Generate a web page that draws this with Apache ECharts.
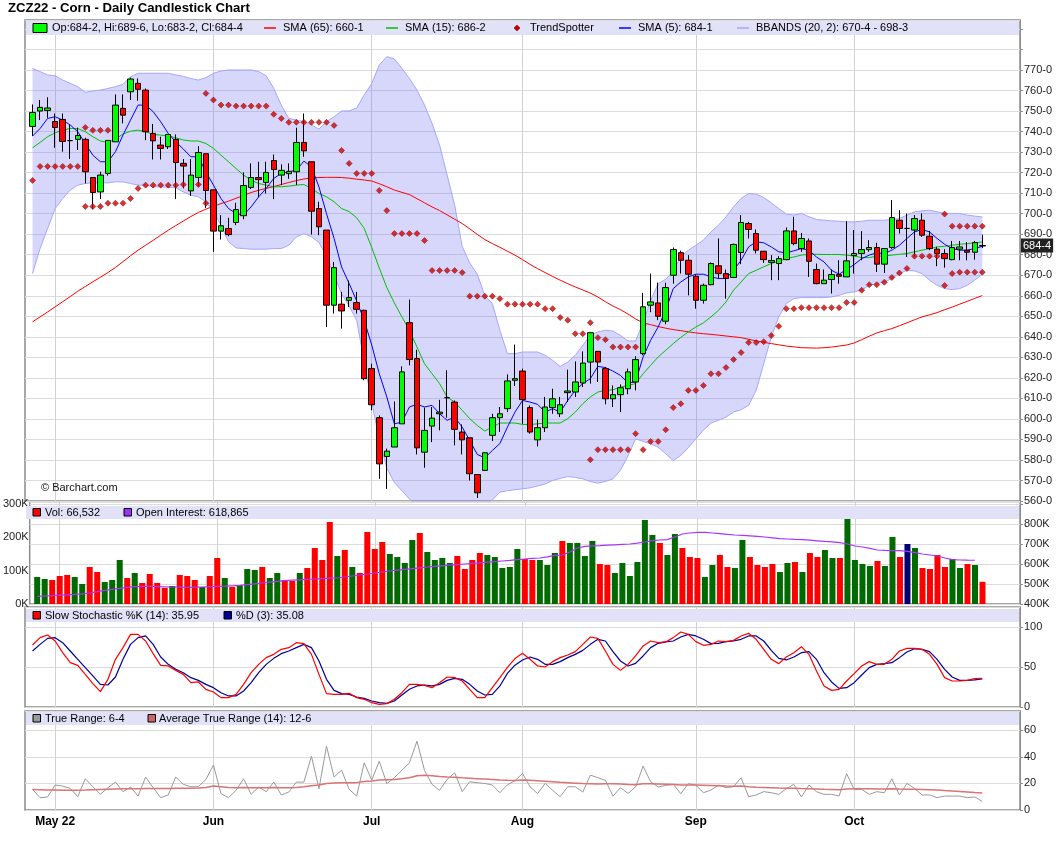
<!DOCTYPE html>
<html>
<head>
<meta charset="utf-8">
<title>ZCZ22 - Corn - Daily Candlestick Chart</title>
<script src="https://cdn.jsdelivr.net/npm/echarts@6/dist/echarts.min.js"></script>
<style>
  html, body { margin: 0; padding: 0; background: #fff; }
  #chart { width: 1060px; height: 851px; }
</style>
</head>
<body>
<div id="chart"></div>
<script>
// ---- data (one entry per trading day, Apr 27 .. Oct 26 2022) ----
var holidays = ['2022-05-30', '2022-06-20', '2022-07-04', '2022-09-05'];

var opens = [742.5,750,750.3,744.9,745.9,735.6,736.2,736.2,717.6,710.6,
  719.6,735,751.3,759.4,763.5,760.2,739.1,733.4,732.6,736.2,
  724.5,711.1,717.6,729.2,711.6,691.5,692.8,695.7,699,712.8,
  717.6,715.2,725.9,718.8,719.5,720.4,734.7,725.3,702.5,692,
  655.4,655.9,657.8,656.7,652.9,624.5,600.6,581.7,586.3,597.6,
  646.9,629.4,583.8,596.5,602.5,610.3,608.2,593.6,590.8,572.9,
  574.9,592,600.6,605,618.8,623.3,605.5,589.8,595.7,605.5,
  602.5,612.8,613.1,617.5,627.7,632.9,624.5,609.8,611.8,614.7,
  618,631.8,655.4,656.5,647.6,670,681,677.3,669.5,657.8,
  665.4,674.6,670.8,668.9,681.1,695.2,690.3,681.7,676.3,675.7,
  677.6,691.6,683,686.7,672.8,665.9,667.9,670.3,669.2,679.6,
  680.6,682.5,683.5,675.4,683.5,696.8,692.8,692,696.8,689,
  682.7,680.6,677.6,682.7,682.2,681.2,684.25];

var highs = [753.2,755.4,756.7,748.8,748.8,743.2,741.9,737,717.6,720.4,
  735.7,758.1,758.1,766.3,765.9,761,743.7,737.5,738.6,738.6,
  726.6,726.6,732.9,729.2,711.6,699.3,698,705.3,720.1,724.5,
  725.3,725.3,728.8,724,724.5,741.9,748.8,725.3,705.8,692,
  676.5,661.9,667.4,661.9,653.2,626.9,601.7,585.5,608.5,625.6,
  658.1,633.7,605.5,605.8,609.3,623.7,609,597.3,590.8,572.9,
  583.8,602.5,605.8,621.7,636.2,624.5,606.6,599.6,610.7,614.7,
  610.7,624,628,632.9,642.4,632.9,625.3,616.3,616.8,624.5,
  630.5,661.4,670.8,666.4,666.4,683.5,682,679.8,670.5,665.9,
  676.2,687.9,672.8,685.4,699.3,696,692.3,681.7,679.8,679.3,
  693.3,698.5,690.6,687.9,675.7,672.8,672.8,677.3,696.3,692,
  691.5,687.1,685.8,683,706.6,701.7,700.1,699.3,700.1,691.6,
  683.8,682.7,686.7,686.7,686.2,686.7,689.75];

var lows = [737.8,745.6,746.7,732.1,730.2,726.6,731,714.7,702.2,707.1,
  718.5,735,744,755.4,755,735.8,726.4,726.4,731.5,707.1,
  712.3,708.7,713.1,702.8,681.4,687.4,689,694.4,697.3,712,
  708.2,709.8,707.1,713.9,717,713.9,727.7,689.8,689.5,644.8,
  651.3,644,654.5,651.3,618.8,604.2,570.8,565.9,586.3,597.6,
  626.1,582.7,576.2,588.7,594.4,600.6,587.1,582.7,570,561.5,
  574.6,589.2,593.6,603.3,616,597.6,592.8,586.6,593.6,602.5,
  600.9,608.2,610.7,615.5,617.2,618,607.1,605.8,603.3,612,
  613.9,631,652,648.1,646.1,665.9,670.8,660.2,653.7,656.2,
  665.1,668.4,658.6,668.9,675.4,687.9,680.6,676,667.6,667.6,
  677.3,684.6,681.4,669.2,665.6,665.9,661.1,665.9,669.2,670.8,
  677.3,681.4,671.6,671.1,682.7,690.3,678.9,679.3,688.7,682.2,
  674.4,673.7,677.3,677.3,677.3,677.6,683.25];

var closes = [749.3,751.8,751.5,742,735.2,735.6,738.1,720.4,710.3,718.8,
  735.7,752.9,748,765.6,760.6,739.9,735.5,731.8,738.6,724.9,
  723.2,718.8,729.8,711.3,691.5,694.1,689.8,702,713.7,717.6,
  716.6,720.1,721.5,721.1,720.6,734.7,730.6,701.2,693.6,655.4,
  673.7,652.6,659.1,653.4,619.6,606.9,578.1,584.3,595.7,622.9,
  628.9,585.9,594.4,600.4,603.3,610.3,594.9,589.8,573.3,564,
  583.5,600.6,602.5,618.5,619.6,609.4,593.6,595.7,605.8,609.8,
  606.9,613.6,618,627.2,642,627.7,609.8,611.8,615.2,622.9,
  628.9,654.6,657,650,664,682.5,677.3,670.5,657.8,665.1,
  675.7,670.8,668.4,685,695.7,692.3,682.2,677.6,677.2,678.1,
  691.6,685.4,687.9,676.8,665.9,667.6,670.3,669.5,677,680.6,
  682.5,683.5,675.4,683,698.1,692.8,692.8,697.6,689.5,683,
  680.6,678.1,683.5,683.8,681.2,685.9,684.5];

var sma65 = [647.3,649.7,652.1,654.6,657.1,659.6,662.2,664.5,666.8,669,
  671.3,673.8,676.6,679.5,682.2,684.6,687,689.5,691.9,694.2,
  696.4,698.6,700.6,702.2,703.6,704.9,706.1,707.5,708.9,710.3,
  711.4,712.3,713.2,714.2,715.2,716.1,716.9,717.4,717.6,717.7,
  717.7,717.6,717.3,716.8,716.4,715.9,714.6,713.1,711.5,710.4,
  709.3,707.3,705.3,703.3,701.5,699.4,697.3,695.2,692.6,689.9,
  687.4,685.4,683.6,681.7,679.8,677.6,675.3,673.2,671.3,669.4,
  667.6,665.9,664.3,662.8,661.3,659.4,657.1,655,653.2,651.1,
  648.7,646.8,645.9,645,644.2,643.5,643,642.4,641.9,641.5,
  641.2,640.8,640.4,640,639.6,638.8,638,637.3,636.7,636.1,
  635.5,635.1,634.7,634.6,634.5,634.7,635,635.5,636,637,
  638.6,640.3,641.9,643,644,645.4,646.8,648.3,649.7,650.7,
  651.8,653.2,654.5,655.9,657.3,658.7,660.1];

var sma15 = [732.1,734.7,737.5,739.4,740.7,741.5,741.5,739.9,737.5,735.4,
  734.7,736.3,738.8,740.2,740.7,739.9,738.6,738.3,737.8,737,
  735.9,735.4,735.4,734.2,731.8,728.5,725.3,722,718.8,716.3,
  714.7,713.9,713.1,713.1,713.4,713.9,714.2,712.3,709.8,708.2,
  705.8,702.5,701,698,692.8,683.5,673.5,664,656.5,649.7,
  643.2,635,626.9,622,617.2,610.7,608.2,604.2,600.1,596.8,
  594.1,596,598,598,598,597.3,597.3,597.6,598,598,
  598,600.1,603.3,607.4,610.7,613.1,613.9,614.2,615.5,616.3,
  617.2,622,626.1,630.2,633.4,636.7,639.7,642.4,644.8,646.8,
  649.7,652.9,657,662.7,666.7,670.8,672.4,674.1,675.7,676.8,
  678.1,678.9,679.8,680.2,680.2,680.1,680.1,680.1,679.8,679.3,
  678.6,678.6,679.3,679.3,679.8,680.2,680.6,681.4,682.2,683,
  683.8,684.1,684.6,685.1,685.4,685.8,686.2];

var sma5 = [737.8,741.5,746.4,747.2,745.6,743.2,739.9,734.2,728.5,725.3,
  725.3,730.2,738.3,745.6,752.9,752.9,749.7,744.8,739.1,735,
  731.5,727.7,727.7,720.4,713.9,707.4,702.5,700.1,699.3,703.3,
  708.2,712.3,717.2,719.6,720.4,721.2,725.6,722.8,713,700,
  688,674,666,657.5,648,636,622,610.7,597.6,598.4,
  605.8,607.1,605.8,606.6,602.5,599.3,600.9,596,589.5,582.7,
  581,584.6,588,596,603.3,609,608.2,607.1,603.3,605,
  603.3,609,613.9,617.2,619.6,625.6,625,623.3,621.2,617.5,
  618,630.2,638.3,644.8,652.9,663.5,666.7,669.2,670.5,670.5,
  669.2,668.4,668.4,672.4,677.3,683.8,686.3,685.8,683.8,681.4,
  680.9,681.9,683,682.2,678.9,676.5,672.4,670.5,672.8,675.2,
  678.1,679.8,680.9,680.6,682.2,684.6,687.9,691.1,692.3,691.1,
  687.9,685.1,683,682.2,682.2,683,684.1];

var bbUpper = [770.8,769.2,767.6,767.2,765.1,763.5,761.9,759.1,759.8,760.2,
  761,761.9,763,766.7,768.4,768.4,768.4,768.4,768.4,767.6,
  766.9,765.9,765.1,766.3,768.4,769.5,770,770,770,770,
  769.2,767.2,761,752.9,746.4,745.6,744.8,743.2,741.2,744.8,
  747.2,750,750.1,751.5,757.8,763.5,772.4,776.5,775.4,770.8,
  765.9,760.2,752.9,744,733.4,718.8,704.2,684,676,670.5,
  660,656.2,643.2,631.8,631.8,632.6,632.6,632.6,631,628.5,
  625.6,627.7,631,635.9,640.7,642.4,643.2,642.8,640.7,638,
  638,646.8,657.8,665.9,668,672,679,682.2,684.6,687.1,
  691.1,694.4,698.5,703.3,707.4,709.8,709.5,707.9,705.3,702.5,
  699.8,699.3,700.1,698.5,697.2,696.8,696.5,696.3,696,696,
  696.3,696.8,696.8,696.8,697.2,697.6,699.3,700.9,701.4,701.7,
  700.9,700.1,700.1,700.1,699.3,698.8,698.4];

var bbLower = [670.8,683,692.8,702.5,707.4,711.5,713.9,714.7,715,715,
  715,715.5,715.5,714.7,713.9,713.9,713.1,713.1,712.8,712.6,
  710.6,709,708.2,705.8,700.9,694.4,686.3,683.3,683,682.7,
  682.7,682.7,683,683,684.6,688.7,690.3,688.7,686,679,
  670,661,655,648,628,608,590,576,569,565,
  561,557,554,552,551,551,551,552,554,556,
  558,560.5,564.3,565,565.5,565.9,566.4,567.3,568.3,570,
  571,571.9,571.5,570.8,569.5,568.7,569.5,570.8,575,582,
  590.3,589,587.9,586.2,583,579.7,582.2,586,590.3,594.5,
  598,599.3,600.9,603.3,604.5,606.6,613.9,626.9,639.9,649.7,
  656.2,658.6,659.1,659.1,659.1,659.1,659.4,660.2,661.4,661.9,
  662.7,665.1,665.9,666.7,668.4,670.8,672.4,672.1,670.8,667.6,
  665.1,663.5,663,663.5,665.1,667.6,670.5];

// TrendSpotter stops: below price / above price (null = no dot)
var tsBelow = [716.2,723,723,723,723,723,723,703.5,703.5,703.5,
  705.1,705.1,705.1,707.4,712.3,713.9,713.9,713.9,713.9,713.9,
  714.2,null,714.2,705.1,null,null,null,null,null,null,
  null,null,null,null,null,null,null,null,null,null,
  null,null,null,null,null,null,null,null,null,null,
  null,null,null,null,null,null,null,null,null,null,
  null,null,null,null,null,null,null,null,null,null,
  null,null,null,null,580.1,585,585,585,585,585,
  592.8,585,589,589,594.7,605.5,607.4,613.9,613.9,616.3,
  622,622,625,628.9,632.3,637.2,637.2,637.6,640.6,645.1,
  653.7,653.7,654.2,654.2,654.2,654.2,654.2,654.2,656.7,656.7,
  662.7,665.4,665.4,666.6,668.9,671.1,673.3,679.3,679.3,679.3,
  679.3,665,670.8,671.5,671.5,671.5,671.5];

var tsAbove = [null,null,null,null,null,null,null,742,740.6,740.6,
  740.6,null,null,null,null,null,null,null,null,null,
  null,null,null,758.6,755.4,752.9,752.9,752.4,752.4,752.4,
  752.4,752.4,748.4,746.4,744.5,744.5,744.5,744.5,744.5,744.5,
  743,730.8,724.5,719.6,719.6,719.6,711.3,701.5,690.3,690.3,
  690.3,690.3,686.9,672.3,672.3,672.3,672.3,671.3,659.8,659.8,
  659.8,659.8,658.6,655.9,655.9,655.9,655.9,655.9,653.7,653.7,
  649.4,648.1,641.5,641.5,646.9,639.6,638.6,635,635,635,
  635,null,null,null,null,null,null,null,null,null,
  null,null,null,null,null,null,null,null,null,null,
  null,null,null,null,null,null,null,null,null,null,
  null,null,null,null,null,null,null,null,null,null,
  null,699.8,693.9,693.9,693.9,693.9,693.9];

var volume = [81000,75000,72000,84000,87000,81000,60000,111000,96000,66000,
  72000,132000,78000,93000,63000,90000,63000,48000,54000,87000,
  84000,72000,51000,84000,138000,78000,51000,57000,105000,102000,
  111000,78000,93000,72000,69000,93000,108000,168000,132000,246000,
  144000,162000,111000,93000,216000,165000,186000,150000,141000,123000,
  192000,213000,156000,132000,138000,123000,144000,105000,132000,153000,
  147000,141000,108000,111000,165000,135000,132000,132000,117000,153000,
  189000,183000,183000,144000,189000,120000,117000,93000,123000,84000,
  126000,252000,207000,183000,147000,210000,168000,141000,138000,81000,
  117000,147000,111000,108000,192000,141000,117000,111000,120000,96000,
  123000,126000,96000,153000,141000,162000,138000,138000,255000,132000,
  120000,114000,129000,114000,201000,141000,180000,168000,108000,105000,
  147000,111000,135000,108000,120000,117000,66532];

var openInterest = [438,440,442,444,446,448,451,455,462,468,
  473,478,483,487,488,488,487,486,485,484,
  483,484,485,487,488,489,491,493,497,501,
  505,509,513,517,519,521,523,525,527,529,
  530,535,540,545,550,555,560,565,569,573,
  577,581,585,588,591,594,597,600,603,606,
  609,612,615,618,622,625,628,630,636,643,
  645,660,680,688,691,692,694,696,698,700,
  704,710,717,720,722,735,750,755,758,758,
  755,752,748,745,743,741,738,735,731,727,
  725,723,722,719,716,713,711,707,700,690,
  685,678,670,668,667,667,663,657,650,645,
  640,630,622,620,619,618.865,null]; // thousands

var stochK = [77.5,86.7,90,82.5,67.9,55.4,52.1,40.8,29.2,19.2,
  34.6,59.6,74.2,90.8,90.8,82.5,66.7,52.1,51.3,45.8,
  40.8,30.4,31.3,22.1,18.8,11.7,11.7,15.8,28.3,42.9,
  53.3,61.7,65.8,72.1,74.2,80.4,79.2,65.8,40.8,16.7,
  15.8,15.8,17.1,11.7,9.6,5.4,3.3,4.2,9.6,17.9,
  28.3,28.3,27.1,24.2,30.4,37.5,36.7,32.5,22.1,11.7,
  11.7,24.2,36.7,49.6,60.5,67.1,59.6,51.3,50,56.7,
  61.7,65,69.2,78.3,87.5,85.8,70,53.3,45.8,53.3,
  63.8,76.3,82.5,80.4,81.3,86.7,93.8,90.8,81.7,77.1,
  78.3,82.5,81.7,83.3,88.8,92.1,84.6,72.1,59.6,54.2,
  62.5,67.9,75.4,65.8,45,26.3,20.8,22.1,32.5,41.7,
  51.3,56.7,53.3,53.3,59.6,70,73.3,73.3,72.1,65.8,
  53.3,36.7,32.5,32.5,33.3,35.4,35.95];

var stochD = [70,78.3,85.8,86.7,80.4,70,59.6,49.2,38.8,28.3,
  27.5,37.5,59.6,78.3,86.7,88.8,78.3,62.5,53.3,47.1,
  42.9,36.7,33.3,28.3,24.2,17.9,13.8,13.8,20,30.4,
  42.9,53.3,60.8,66.7,70,74.2,78.3,74.2,57.5,34.6,
  20.8,16.7,15.8,12.5,10.8,7.5,5.4,4.6,7.5,15,
  22.1,26.3,27.5,26.3,28.3,33.3,35.8,34.6,28.3,20,
  15,15.8,26.3,42,52.3,58.8,62.5,59.6,53.3,53.3,
  56.7,61.7,65.8,70.8,78.3,84.6,82.5,69.2,57.5,51.3,
  54.6,63.8,74.2,79.6,81.3,82.5,87.5,90.8,88.8,84.6,
  79.2,79.6,81.7,82.5,84.6,88.8,88.8,82.5,70.8,60.8,
  58.8,62.5,67.9,69.2,59.6,42.9,31.3,23.3,24.2,30.4,
  40,49.2,53.3,54.2,55.4,61.7,68.8,72.9,72.1,69.2,
  59.6,47.1,37.5,33.3,33.3,33.8,35.08];

var trueRange = [15.5,9.3,9.8,18.8,18,16.3,10,23.5,17.5,11.8,
  16.8,21,13.8,17.3,10.5,24.8,16.8,9.3,11.3,24.8,
  19.3,17.5,17.5,23,33.8,12.3,9.3,14.8,23.5,11.8,
  17.3,13.8,21,11.3,13.5,21,21,40.5,16,48,
  24.8,30,15.5,10.5,35.5,22.5,36.8,19.8,24.3,29.8,
  35.5,51.8,29.8,19.3,14.8,23,28,13.8,21.3,20.5,
  20,18.8,13,19,22,27.5,17.5,12.3,20,14.8,
  10,17.5,17.5,13.5,26.3,24.3,22.3,10.5,16.8,12.5,
  17.3,33,21.3,17.3,18.5,19.3,12.3,19.8,18.8,13,
  15,18.8,16.8,17.5,24.3,10,11.3,13.8,13,11.8,
  16,19.3,9.8,18.8,13.8,11.8,11.8,10.5,27.3,15.5,
  15.5,11.8,13.8,13,23.5,11.3,20,16.3,11.3,11.3,
  9.3,10.5,10.5,10.5,9.3,9.8,6.5];

var atr = [15.5,15.3,15.1,15,14.9,14.8,14.9,15,15.2,15.4,
  15.6,15.8,15.9,16,16,16.1,16.1,16.2,16.2,16.3,
  16.3,16.4,16.5,16.9,18,17.5,17,16.8,16.9,16.8,
  16.8,16.8,16.9,16.8,16.8,17,17.5,18.2,18.8,20,
  20.3,20.5,20.5,20.6,21.5,21.8,22.5,22.8,23,23.5,
  24.3,25.8,26.2,25.8,25.2,24.8,24.6,24.2,23.9,23.6,
  23.3,23,22.6,22.3,22.2,22.5,22.3,22,21.6,21.2,
  20.8,20.5,20.2,19.9,19.8,19.6,19.8,19.8,19.5,19.2,
  19,19.8,19.8,19.6,19.4,19.2,18.9,18.9,18.8,18.6,
  18.4,18.2,18,17.9,18,17.5,17.2,17,16.8,16.5,
  16.4,16.3,16.1,16,15.8,15.6,15.5,15.3,15.8,16,
  16,15.9,15.8,15.8,16,15.8,15.7,15.6,15.4,15.2,
  15,14.6,14.3,13.9,13.5,13.1,12.75];

// ---- categories ----
function tradingDays(start, n, skip) {
  var out = [];
  var d = new Date(start + 'T00:00:00Z');
  while (out.length < n) {
    var dow = d.getUTCDay();
    var s = d.toISOString().slice(0, 10);
    if (dow !== 0 && dow !== 6 && skip.indexOf(s) < 0) out.push(s);
    d = new Date(d.getTime() + 86400000);
  }
  return out;
}
var dates = tradingDays('2022-04-27', closes.length, holidays);

// one empty slot in front, a few behind (barchart leaves room on the right)
var PRE = ['_p0'], POST = ['_q0', '_q1', '_q2', '_q3', '_q4'];
var cats = PRE.concat(dates, POST);
function pad(arr) {
  var a = [null];
  for (var i = 0; i < arr.length; i++) a.push(arr[i]);
  for (var j = 0; j < POST.length; j++) a.push(null);
  return a;
}

var monthNames = ['Jan','Feb','Mar','Apr','May','Jun','Jul','Aug','Sep','Oct','Nov','Dec'];
var marks = {}, firstMark = null;
for (var i = 1; i < dates.length; i++) {
  if (dates[i].slice(5, 7) !== dates[i - 1].slice(5, 7)) {
    marks[i + 1] = true;
    if (firstMark === null) firstMark = dates[i];
  }
}
function isMark(index) { return !!marks[index]; }

// ---- derived tables ----
var candleData = pad(closes.map(function (c, i) { return [opens[i], c, lows[i], highs[i]]; }))
  .map(function (v) { return v || ['-', '-', '-', '-']; });

var bandDiff = bbUpper.map(function (u, i) { return +(u - bbLower[i]).toFixed(2); });

var tsData = [];
tsBelow.forEach(function (v, i) { if (v != null) tsData.push([i + 1, v]); });
tsAbove.forEach(function (v, i) { if (v != null) tsData.push([i + 1, v]); });

// volume colour follows the close-to-close change
var volData = pad(volume.map(function (v, i) {
  var prev = i > 0 ? closes[i - 1] : closes[i] - 1;
  var col = closes[i] > prev ? '#006a00' : (closes[i] < prev ? '#ff0000' : '#000070');
  return { value: v, itemStyle: { color: col } };
}));

function eighths(v) {
  var whole = Math.floor(v);
  return whole + '-' + Math.round((v - whole) * 8);
}

var FONT = 'Liberation Sans, Arial, sans-serif';
var gridBase = { left: 25, right: 40, show: true, borderColor: '#8c8c8c', borderWidth: 1.5, backgroundColor: '#fff' };
function grid(top, height) { return Object.assign({ top: top, height: height }, gridBase); }

function xAxisFor(g) {
  return {
    type: 'category', gridIndex: g, data: cats, boundaryGap: false,
    axisLine: { show: false }, axisTick: { show: false },
    axisLabel: g === 3 ? {
      show: true, interval: isMark, margin: 6,
      fontSize: 12, fontWeight: 'bold', color: '#000', fontFamily: FONT,
      formatter: function (v) {
        var name = monthNames[+v.slice(5, 7) - 1];
        return v === firstMark ? name + ' ' + v.slice(2, 4) : name;
      }
    } : { show: false },
    splitLine: { show: true, interval: isMark, lineStyle: { color: '#d2d2d2', width: 1 } }
  };
}

function rightAxis(g, min, max, interval, fmt) {
  return {
    type: 'value', gridIndex: g, position: 'right', min: min, max: max, interval: interval,
    axisLine: { show: true, lineStyle: { color: '#8c8c8c' } },
    axisTick: { show: true, length: 3, lineStyle: { color: '#8c8c8c' } },
    axisLabel: { fontSize: 11, color: '#222', margin: 4, fontFamily: FONT, showMaxLabel: false, formatter: fmt },
    splitLine: { show: true, lineStyle: { color: '#dcdcdc' } }
  };
}

// legend strip graphics
var BAND = '#e1e1f8';
function strip(y, h) {
  return { type: 'rect', z: 100, shape: { x: 26, y: y, width: 993, height: h }, style: { fill: BAND } };
}
function box(x, y, w, h, color) {
  return { type: 'rect', z: 101, shape: { x: x, y: y, width: w, height: h }, style: { fill: color, stroke: '#000', lineWidth: 1 } };
}
function dash(x, y, color) {
  return { type: 'line', z: 101, shape: { x1: x, y1: y, x2: x + 12, y2: y }, style: { stroke: color, lineWidth: 1.5 } };
}
function label(x, y, text) {
  return { type: 'text', z: 101, x: x, y: y, style: { text: text, fill: '#000', font: '11px ' + FONT, textVerticalAlign: 'middle' } };
}
function diamond(x, y, color) {
  return { type: 'polygon', z: 101, shape: { points: [[x, y - 3], [x + 3, y], [x, y + 3], [x - 3, y]] }, style: { fill: color, stroke: '#7a0000', lineWidth: 0.6 } };
}

var graphics = [
  strip(21, 14),
  box(33, 23.5, 14, 9, '#00ff00'), label(52, 28, 'Op:684-2, Hi:689-6, Lo:683-2, Cl:684-4'),
  dash(264, 28, '#ff0000'), label(283, 28, 'SMA (65): 660-1'),
  dash(386, 28, '#00c000'), label(405, 28, 'SMA (15): 686-2'),
  diamond(517, 28, '#d00000'), label(530, 28, 'TrendSpotter'),
  dash(619, 28, '#0000ff'), label(638, 28, 'SMA (5): 684-1'),
  dash(737, 28, '#a6a6ff'), label(756, 28, 'BBANDS (20, 2): 670-4 - 698-3'),

  strip(506, 13),
  box(33, 508.5, 7.5, 7.5, '#ff0000'), label(45, 512.5, 'Vol: 66,532'),
  box(124, 508.5, 7.5, 7.5, '#9933ff'), label(136, 512.5, 'Open Interest: 618,865'),

  strip(609, 13),
  box(33, 611.5, 7.5, 7.5, '#ff0000'), label(45, 615.5, 'Slow Stochastic %K (14): 35.95'),
  box(224, 611.5, 7.5, 7.5, '#000099'), label(236, 615.5, '%D (3): 35.08'),

  strip(712, 13),
  box(33, 714.5, 7.5, 7.5, '#999999'), label(45, 718.5, 'True Range: 6-4'),
  box(148, 714.5, 7.5, 7.5, '#cc6666'), label(159, 718.5, 'Average True Range (14): 12-6'),

  { type: 'text', z: 101, x: 41, y: 488, style: { text: '\u00a9 Barchart.com', fill: '#111', font: '11px ' + FONT, textVerticalAlign: 'middle' } }
];

var option = {
  animation: false,
  backgroundColor: '#fff',
  textStyle: { fontFamily: FONT },
  title: {
    text: 'ZCZ22 - Corn - Daily Candlestick Chart', left: 8, top: 2, padding: 0,
    textStyle: { fontSize: 13.2, fontWeight: 'bold', color: '#000', fontFamily: FONT }
  },
  grid: [grid(20, 481), grid(502, 102), grid(607, 100), grid(711, 99)],
  xAxis: [xAxisFor(0), xAxisFor(1), xAxisFor(2), xAxisFor(3)],
  yAxis: [
    rightAxis(0, 560, 794.36, 10, function (v) { return v > 770 ? '' : v + '-0'; }),
    {
      type: 'value', gridIndex: 1, position: 'left', min: 0, max: 306000, interval: 100000,
      axisLine: { show: false }, axisTick: { show: false }, splitLine: { show: false },
      axisLabel: { fontSize: 11, color: '#222', margin: 1, fontFamily: FONT, showMaxLabel: false,
        formatter: function (v) { return v > 300000 ? '' : (v / 1000) + 'K'; } }
    },
    rightAxis(1, 400000, 910000, 100000, function (v) { return v > 800000 ? '' : (v / 1000) + 'K'; }),
    rightAxis(2, 0, 125, 50, function (v) { return v > 100 ? '' : v; }),
    rightAxis(3, 0, 74.5, 20, function (v) { return v > 60 ? '' : v; })
  ],
  series: [
    { name: 'BB lower', type: 'line', xAxisIndex: 0, yAxisIndex: 0, data: pad(bbLower), stack: 'bb',
      symbol: 'none', lineStyle: { color: '#a6a6ff', width: 1 }, z: 1, clip: true },
    { name: 'BB upper', type: 'line', xAxisIndex: 0, yAxisIndex: 0, data: pad(bandDiff), stack: 'bb',
      symbol: 'none', lineStyle: { color: '#a6a6ff', width: 1 },
      areaStyle: { color: 'rgba(110,110,245,0.28)', opacity: 1 }, z: 1, clip: true },
    { name: 'SMA (65)', type: 'line', data: pad(sma65), symbol: 'none', lineStyle: { color: '#ff0000', width: 1 }, z: 2 },
    { name: 'SMA (15)', type: 'line', data: pad(sma15), symbol: 'none', lineStyle: { color: '#00c000', width: 1 }, z: 2 },
    { name: 'SMA (5)', type: 'line', data: pad(sma5), symbol: 'none', lineStyle: { color: '#0000ff', width: 1 }, z: 2 },
    { name: 'Price', type: 'candlestick', data: candleData, barWidth: 6, z: 3,
      itemStyle: { color: '#00ff00', color0: '#ff0000', borderColor: '#000', borderColor0: '#000', borderColorDoji: '#000', borderWidth: 1 },
      markLine: {
        silent: true, symbol: 'none', z: 10,
        lineStyle: { color: 'rgba(0,0,0,0)', width: 0, type: 'solid' },
        label: { show: true, position: 'end', distance: 1,
          formatter: function () { return eighths(closes[closes.length - 1]); },
          backgroundColor: '#222', color: '#fff', fontSize: 11, padding: [2, 2, 1, 2], fontFamily: FONT, opacity: 1 },
        data: [{ yAxis: closes[closes.length - 1] }]
      }
    },
    { name: 'TrendSpotter', type: 'scatter', data: tsData, symbol: 'diamond', symbolSize: 6, z: 4,
      itemStyle: { color: '#d00000', borderColor: '#7a0000', borderWidth: 0.6 } },

    { name: 'Vol', type: 'bar', xAxisIndex: 1, yAxisIndex: 1, data: volData, barWidth: 6, z: 2 },
    { name: 'Open Interest', type: 'line', xAxisIndex: 1, yAxisIndex: 2,
      data: pad(openInterest.map(function (v) { return v == null ? null : v * 1000; })),
      symbol: 'none', lineStyle: { color: '#aa33ff', width: 1.2 }, z: 3 },

    { name: '%K', type: 'line', xAxisIndex: 2, yAxisIndex: 3, data: pad(stochK), symbol: 'none', lineStyle: { color: '#ff0000', width: 1.2 }, z: 3 },
    { name: '%D', type: 'line', xAxisIndex: 2, yAxisIndex: 3, data: pad(stochD), symbol: 'none', lineStyle: { color: '#000099', width: 1.2 }, z: 2 },

    { name: 'True Range', type: 'line', xAxisIndex: 3, yAxisIndex: 4, data: pad(trueRange), symbol: 'none', lineStyle: { color: '#9a9a9a', width: 1 }, z: 2 },
    { name: 'ATR', type: 'line', xAxisIndex: 3, yAxisIndex: 4, data: pad(atr), symbol: 'none', lineStyle: { color: '#dc7272', width: 1.5 }, z: 3 }
  ],
  graphic: graphics
};

var chart = echarts.init(document.getElementById('chart'), null, { renderer: 'canvas' });
chart.setOption(option);
</script>
</body>
</html>
